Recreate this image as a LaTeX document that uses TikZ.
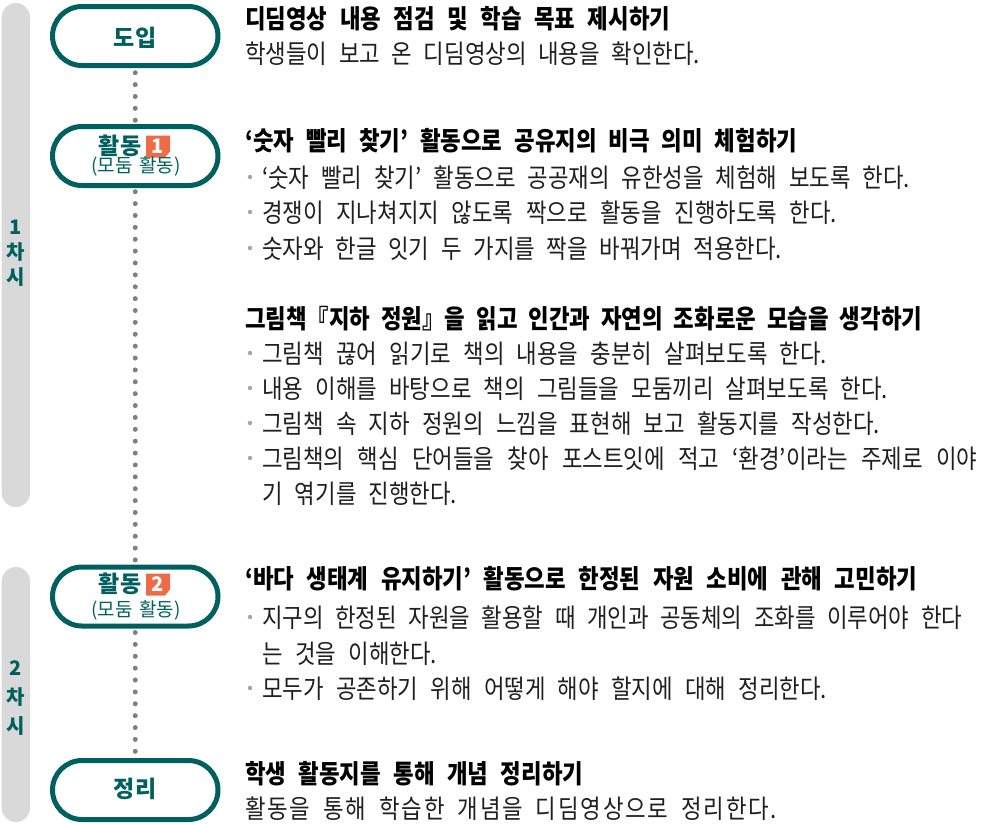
\documentclass[tikz,border=0pt]{standalone}
\usepackage{fontspec}
\setmainfont{Noto Sans CJK KR}[FakeStretch=0.86]
\newfontfamily\labfont{Noto Sans CJK KR}
\usetikzlibrary{calc}
\definecolor{tealc}{HTML}{006060}
\definecolor{barg}{HTML}{D9D9D9}
\definecolor{dotg}{HTML}{808080}
\definecolor{bulg}{HTML}{A6A6A6}
\definecolor{badgeo}{HTML}{EE6B47}
\definecolor{bodyc}{HTML}{1F1F1F}
\begin{document}
\begin{tikzpicture}[x=1pt,y=-1pt,
 stadium/.style={draw=tealc, line width=5pt, fill=white, rounded corners=29.5pt, minimum width=165.5pt, minimum height=59pt, inner sep=0pt},
 nodelab/.style={text=tealc, font=\labfont\bfseries\fontsize{23}{23}\selectfont, inner sep=0pt},
 sublab/.style={text=tealc, font=\labfont\fontsize{19}{19}\selectfont, inner sep=0pt},
 barlab/.style={text=tealc, font=\labfont\bfseries\fontsize{20}{20}\selectfont, inner sep=0pt},
 titletext/.style={anchor=base west, inner sep=0pt, text=black, font=\bfseries\fontsize{26}{26}\selectfont},
 bodytext/.style={anchor=base west, inner sep=0pt, text=bodyc, font=\fontsize{26}{26}\selectfont},
 bulletdot/.style={circle, fill=bulg, inner sep=0pt, minimum size=4.5pt},
 dotline/.style={draw=dotg, line width=5pt, line cap=round, dash pattern=on 0pt off 11.88pt},
 badge/.style={inner sep=0pt, minimum width=24pt, minimum height=22pt, text=white, font=\labfont\bfseries\fontsize{20}{20}\selectfont,
   path picture={\fill[badgeo] (path picture bounding box.north west) -- (path picture bounding box.north east) -- ($(path picture bounding box.south east)+(0,-6)$) -- ($(path picture bounding box.south east)+(-5,0)$) -- (path picture bounding box.south west) -- cycle;}}
]
\useasboundingbox (0,0) rectangle (984,823);

% session bars
\fill[barg, rounded corners=14pt] (1.7,3) rectangle (30,507);
\fill[barg, rounded corners=14pt] (1.7,567) rectangle (30,822);
\node[barlab] (s1a) at (15.5,227.5) {1};
\node[barlab] (s1b) at (15.5,252) {차};
\node[barlab] (s1c) at (15.5,277) {시};
\node[barlab] (s2a) at (15.5,668.5) {2};
\node[barlab] (s2b) at (15.5,697.5) {차};
\node[barlab] (s2c) at (15.5,726) {시};

% stage nodes
\node[stadium] (doip) at (135.25,36) {};
\node[stadium] (act1) at (135.25,156) {};
\node[stadium] (act2) at (135.25,596.5) {};
\node[stadium] (wrap) at (135.25,790) {};

\draw[dotline, shorten <=4.7pt] (doip) -- (act1);
\draw[dotline, shorten <=3.7pt] (act1) -- (act2);
\draw[dotline, shorten <=4pt] (act2) -- (wrap);

\node[nodelab] (doipl) at (135,37.5) {도입};
\node[nodelab] (act1l) at (120,146) {활동};
\node[badge] (bd1) at (158,146.5) {1};
\node[sublab] (act1s) at (136,166.5) {(모둠\hspace{2.5pt} 활동)};
\node[nodelab] (act2l) at (120,584) {활동};
\node[badge] (bd2) at (158,584.5) {2};
\node[sublab] (act2s) at (136,610) {(모둠\hspace{2.5pt} 활동)};
\node[nodelab] (wrapl) at (135,789) {정리};

% texts
\node[titletext] (t1) at (245,28) {\makebox[425pt][s]{디딤영상 내용 점검 및 학습 목표 제시하기}};
\node[bodytext] (l2) at (245,63) {\makebox[455pt][s]{학생들이 보고 온 디딤영상의 내용을 확인한다.}};

\node[titletext] (t2) at (245,150) {\makebox[552pt][s]{‘숫자 빨리 찾기’ 활동으로 공유지의 비극 의미 체험하기}};
\node[bulletdot] (b4) at (250,177) {};
\node[bodytext] (l4) at (262,187) {\makebox[648pt][s]{‘숫자 빨리 찾기’ 활동으로 공공재의 유한성을 체험해 보도록 한다.}};
\node[bulletdot] (b5) at (250,212) {};
\node[bodytext] (l5) at (262,222) {\makebox[575pt][s]{경쟁이 지나쳐지지 않도록 짝으로 활동을 진행하도록 한다.}};
\node[bulletdot] (b6) at (250,248) {};
\node[bodytext] (l6) at (262,258) {\makebox[520pt][s]{숫자와 한글 잇기 두 가지를 짝을 바꿔가며 적용한다.}};

\node[titletext] (t3) at (245,328) {\makebox[677pt][s]{그림책『지하 정원』을 읽고 인간과 자연의 조화로운 모습을 생각하기}};
\node[bulletdot] (b8) at (250,353) {};
\node[bodytext] (l8) at (262,363) {\makebox[565pt][s]{그림책 끊어 읽기로 책의 내용을 충분히 살펴보도록 한다.}};
\node[bulletdot] (b9) at (250,388) {};
\node[bodytext] (l9) at (262,398) {\makebox[626pt][s]{내용 이해를 바탕으로 책의 그림들을 모둠끼리 살펴보도록 한다.}};
\node[bulletdot] (b10) at (250,423) {};
\node[bodytext] (l10) at (262,433) {\makebox[618pt][s]{그림책 속 지하 정원의 느낌을 표현해 보고 활동지를 작성한다.}};
\node[bulletdot] (b11) at (250,458) {};
\node[bodytext] (l11) at (262,468) {\makebox[715pt][s]{그림책의 핵심 단어들을 찾아 포스트잇에 적고 ‘환경’이라는 주제로 이야}};
\node[bodytext] (l12) at (262,503) {\makebox[195pt][s]{기 엮기를 진행한다.}};

\node[titletext] (t4) at (245,588) {\makebox[672pt][s]{‘바다 생태계 유지하기’ 활동으로 한정된 자원 소비에 관해 고민하기}};
\node[bulletdot] (b14) at (250,617) {};
\node[bodytext] (l14) at (262,627) {\makebox[700pt][s]{지구의 한정된 자원을 활용할 때 개인과 공동체의 조화를 이루어야 한다}};
\node[bodytext] (l15) at (262,663) {\makebox[175pt][s]{는 것을 이해한다.}};
\node[bulletdot] (b16) at (250,688) {};
\node[bodytext] (l16) at (262,698) {\makebox[565pt][s]{모두가 공존하기 위해 어떻게 해야 할지에 대해 정리한다.}};

\node[titletext] (t5) at (245,783) {\makebox[338pt][s]{학생 활동지를 통해 개념 정리하기}};
\node[bodytext] (l18) at (245,818) {\addfontfeature{LetterSpace=7}\makebox[532pt][s]{활동을 통해 학습한 개념을 디딤영상으로 정리한다.}};
\end{tikzpicture}
\end{document}
